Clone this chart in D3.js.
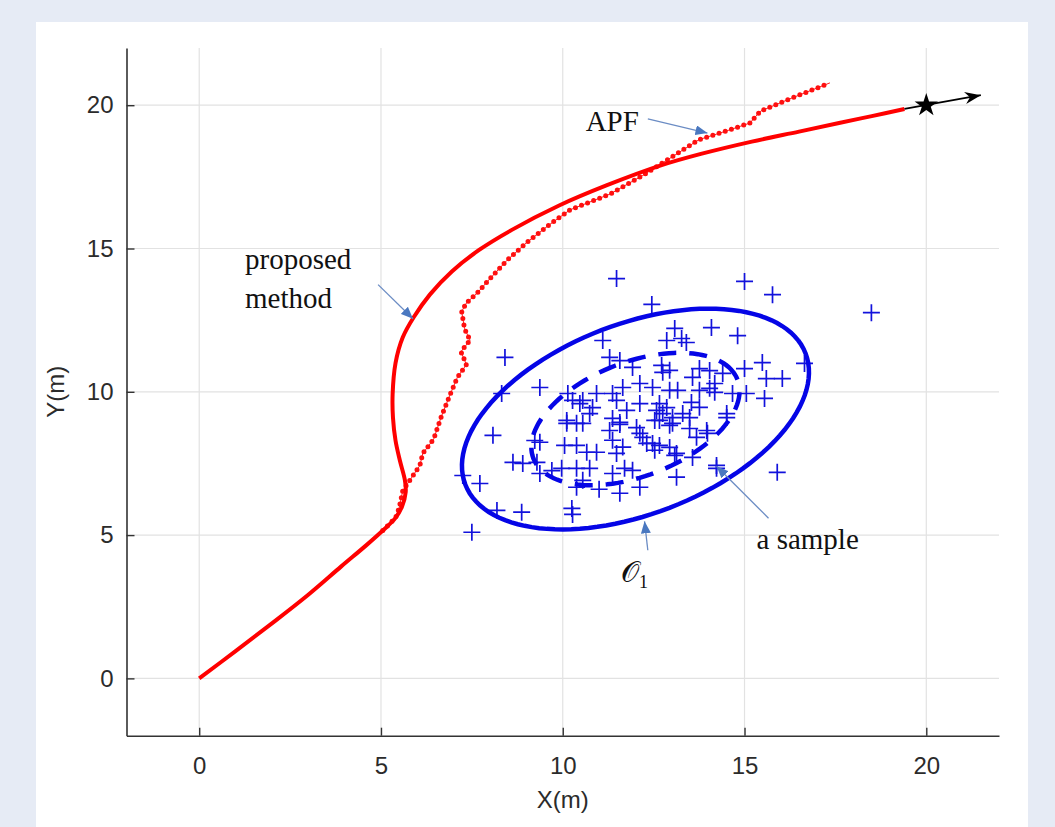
<!DOCTYPE html>
<html>
<head>
<meta charset="utf-8">
<script src="https://cdn.jsdelivr.net/npm/d3@7"></script>
<style>
  body { margin: 0; background: #e6ebf5; }
  svg text { font-family: "Liberation Sans", Arial, sans-serif; }
  .serif { font-family: "Liberation Serif", "Times New Roman", serif !important; }
</style>
</head>
<body>
<div id="chart_area"></div>
<script>
// ---- data ----
var xTicks = [0, 5, 10, 15, 20];
var yTicks = [0, 5, 10, 15, 20];

// proposed method (solid red)
var proposed = [[0,0],[1,0.95],[2,1.92],[3,2.92],[3.9,3.9],[4.6,4.65],[5.05,5.16],[5.4,5.6],
  [5.58,6.0],[5.68,6.5],[5.66,6.9],[5.52,7.6],[5.4,8.3],[5.33,9.1],[5.32,9.9],[5.4,11.0],
  [5.6,11.9],[5.9,12.6],[6.35,13.4],[6.95,14.2],[7.7,14.95],[8.6,15.65],[9.9,16.5],
  [11.2,17.2],[12.7,17.9],[13.8,18.3],[15.2,18.73],[16.5,19.08],[17.6,19.38],[18.5,19.62],[19.4,19.87]];

// APF (red dotted) - the part below (5,5) runs under the solid line
var apf = [[5.05,5.16],[5.4,5.6],[5.5,5.95],
  [5.6,6.55],[6.07,7.43],[6.15,7.85],[6.45,8.35],[6.65,9.1],[6.9,9.9],[7.1,10.5],[7.35,10.95],
  [7.2,11.4],[7.45,11.8],[7.3,12.2],[7.22,12.8],[7.35,13.1],[7.65,13.45],[8.0,13.95],[8.46,14.58],
  [9.0,15.2],[9.6,15.8],[10.2,16.35],[11.3,16.9],[12.2,17.55],[12.95,18.15],[13.75,18.8],
  [14.5,19.1],[15.15,19.38],[15.3,19.6],[15.45,19.8],[16.3,20.25],[17.35,20.78]];

// samples (blue +)
var samples = [[11.48,13.95],[15.0,13.85],[15.77,13.39],[12.45,13.05],[18.49,12.76],[8.41,11.2],
  [16.65,10.99],[16.04,10.46],[15.6,10.46],[15.55,9.77],[15.9,7.19],[8.32,9.94],[8.08,8.48],
  [7.25,7.08],[7.72,6.8],[7.5,5.1],[8.19,5.86],[8.87,5.8],[10.25,5.93],[10.27,5.72],[11.57,6.46],
  [12.12,6.67],[13.08,12.21],[14.09,12.24],[14.81,11.96],[12.86,11.79],[13.27,11.86],[13.4,11.72],
  [15.49,11.02],[15.0,10.81],[12.72,10.92],[12.94,10.75],[13.76,10.81],[14.04,10.74],[13.57,10.5],
  [14.4,10.64],[14.18,10.29],[12.94,10.05],[13.16,10.05],[13.76,10.05],[14.18,9.98],[14.67,9.94],
  [15.05,9.94],[13.54,9.63],[13.76,9.46],[12.75,9.24],[13.49,9.1],[14.51,9.1],[12.53,9.0],
  [12.94,8.83],[13.49,8.72],[13.98,8.55],[12.47,8.2],[12.94,8.06],[13.13,7.85],[13.57,7.71],
  [14.23,7.43],[13.13,7.02],[9.37,10.15],[8.63,7.54],[8.9,7.5],[9.29,7.54],[9.37,7.15],[9.23,8.3],
  [9.37,8.24],[9.97,7.33],[10.38,7.33],[10.74,7.33],[10.55,6.91],[10.05,8.13],[10.38,8.13],
  [10.66,7.89],[10.93,7.89],[10.11,8.9],[10.38,8.9],[10.74,9.24],[10.27,9.7],[10.55,9.7],
  [10.93,9.94],[11.37,9.94],[11.48,9.7],[11.76,9.35],[11.57,8.93],[11.29,8.65],[11.37,8.31],
  [11.65,8.07],[11.48,7.85],[11.37,7.15],[11.7,7.33],[11.92,7.26],[12.12,8.55],[12.31,8.2],
  [12.53,7.96],[12.66,8.13],[12.47,10.15],[12.66,9.59],[13.02,9.1],[13.3,9.24],[14.04,10.12],
  [13.96,8.65],[13.68,8.41],[13.08,7.78],[14.23,7.33],[14.51,9.24],[11.1,11.79],[11.29,11.2],
  [11.57,11.09],[11.92,10.85],[10.14,9.94],[10.47,9.59],[10.82,9.45],[11.65,10.15],[12.12,10.29],
  [12.12,9.59],[12.58,9.35],[12.86,9.45],[12.75,10.68],[10.11,9.0],[10.55,8.9],[11.37,9.07],
  [11.57,8.86],[12.03,8.75],[12.2,8.41],[12.66,9.0],[13.02,8.9],[9.7,7.25],[11.0,6.6],[10.38,6.67]];

// obstacle ellipses: centre, semi-axes, tilt (deg)
var ellipseCenter = [12.0, 9.05];
var ellipseAxes = [5.25, 3.17];
var ellipseTilt = 31.5;
var innerScale = 0.6;

// goal and heading
var goal = [20, 20];
var heading = [[19.4, 19.87], [21.5, 20.35]];

// annotations: text, text pos, arrow from, arrow to
var notes = [
  {lines: ["APF"], at: [10.63, 19.1], from: [12.34, 19.52], to: [13.98, 19.03]},
  {lines: ["proposed", "method"], at: [1.26, 14.3], from: [4.92, 13.74], to: [5.88, 12.55]},
  {lines: ["a sample"], at: [15.33, 4.52], from: [15.66, 5.59], to: [14.23, 7.4]},
  {lines: ["\uD835\uDCAA"], sub: "1", at: [11.6, 3.36], from: [12.34, 4.47], to: [12.25, 5.48]}
];

// ---- frame ----
var W = 1055, H = 827;
var svg = d3.select("#chart_area").append("svg").attr("width", W).attr("height", H);
svg.append("rect").attr("width", W).attr("height", H).attr("fill", "#e6ebf5");
svg.append("rect").attr("x", 36).attr("y", 22).attr("width", 992).attr("height", H - 22).attr("fill", "#fff");

var xScale = d3.scaleLinear().domain([-2, 22]).range([126.5, 999]);
var yScale = d3.scaleLinear().domain([-2, 22]).range([735.7, 47.9]);

var defs = svg.append("defs");
defs.append("marker").attr("id", "bluehead").attr("viewBox", "0 0 12 10")
  .attr("refX", 12).attr("refY", 5).attr("markerWidth", 12).attr("markerHeight", 10)
  .attr("markerUnits", "userSpaceOnUse").attr("orient", "auto")
  .append("path").attr("d", "M0,0L12,5L0,10z").attr("fill", "#4a78c0");
defs.append("marker").attr("id", "blackhead").attr("viewBox", "0 0 16 12")
  .attr("refX", 16).attr("refY", 6).attr("markerWidth", 16).attr("markerHeight", 12)
  .attr("markerUnits", "userSpaceOnUse").attr("orient", "auto")
  .append("path").attr("d", "M0,0L16,6L0,12L5,6z").attr("fill", "#000");

// grid
var grid = svg.append("g");
grid.selectAll(".gx").data(xTicks).enter().append("line")
  .attr("x1", d => xScale(d)).attr("x2", d => xScale(d))
  .attr("y1", yScale(-2)).attr("y2", yScale(22))
  .attr("stroke", "#e2e2e2").attr("stroke-width", 1.2);
grid.selectAll(".gy").data(yTicks).enter().append("line")
  .attr("y1", d => yScale(d)).attr("y2", d => yScale(d))
  .attr("x1", xScale(-2)).attr("x2", xScale(22))
  .attr("stroke", "#e2e2e2").attr("stroke-width", 1.2);

// axes
var xAxis = d3.axisBottom(xScale).tickValues(xTicks).tickSize(-8).tickSizeOuter(0).tickPadding(21);
var yAxis = d3.axisLeft(yScale).tickValues(yTicks).tickSize(-8).tickSizeOuter(0).tickPadding(13);
var gx = svg.append("g").attr("transform", "translate(0," + yScale(-2) + ")").call(xAxis);
var gy = svg.append("g").attr("transform", "translate(" + xScale(-2) + ",0)").call(yAxis);
[gx, gy].forEach(function(g) {
  g.select(".domain").attr("stroke", "#333").attr("stroke-width", 1.6);
  g.selectAll(".tick line").attr("stroke", "#333").attr("stroke-width", 1.4);
  g.selectAll(".tick text").attr("fill", "#2b2b2b").style("font-size", "24px")
    .style("font-family", "'Liberation Sans', Arial, sans-serif");
});

svg.append("text").attr("x", xScale(10)).attr("y", 808).attr("text-anchor", "middle")
  .attr("fill", "#2b2b2b").style("font-size", "24px").text("X(m)");
svg.append("text").attr("transform", "translate(64," + yScale(10) + ") rotate(-90)")
  .attr("text-anchor", "middle").attr("fill", "#2b2b2b").style("font-size", "24px").text("Y(m)");

// ellipses
function ellipsePath(scale) {
  var a = ellipseAxes[0] * scale, b = ellipseAxes[1] * scale;
  var th = ellipseTilt * Math.PI / 180;
  var pts = d3.range(0, 361, 3).map(function(deg) {
    var t = deg * Math.PI / 180;
    return [ellipseCenter[0] + a * Math.cos(th) * Math.cos(t) - b * Math.sin(th) * Math.sin(t),
            ellipseCenter[1] + a * Math.sin(th) * Math.cos(t) + b * Math.cos(th) * Math.sin(t)];
  });
  return d3.line().x(d => xScale(d[0])).y(d => yScale(d[1]))(pts);
}

// samples
svg.append("g").selectAll("path").data(samples).enter().append("path")
  .attr("transform", d => "translate(" + xScale(d[0]) + "," + yScale(d[1]) + ")")
  .attr("d", "M-8.5,0H8.5M0,-8.5V8.5").attr("stroke", "#1212dc").attr("stroke-width", 1.7).attr("fill", "none");

svg.append("path").attr("d", ellipsePath(1)).attr("fill", "none")
  .attr("stroke", "#0505e6").attr("stroke-width", 4.5);
svg.append("path").attr("d", ellipsePath(innerScale)).attr("fill", "none")
  .attr("stroke", "#0505e6").attr("stroke-width", 4.5).attr("stroke-dasharray", "18,13");

// APF dotted
var line = d3.line().x(d => xScale(d[0])).y(d => yScale(d[1]));
svg.append("path").attr("d", line(apf)).attr("fill", "none")
  .attr("stroke", "#ff2020").attr("stroke-width", 1);
svg.append("path").attr("d", line(apf)).attr("fill", "none")
  .attr("stroke", "#ff1010").attr("stroke-width", 5)
  .attr("stroke-linecap", "round").attr("stroke-dasharray", "0,6.5");

// proposed
svg.append("path").attr("d", d3.line().curve(d3.curveCatmullRom).x(d => xScale(d[0])).y(d => yScale(d[1]))(proposed))
  .attr("fill", "none").attr("stroke", "#ff0000").attr("stroke-width", 4);

// heading arrow + goal
svg.append("line").attr("x1", xScale(heading[0][0])).attr("y1", yScale(heading[0][1]))
  .attr("x2", xScale(heading[1][0])).attr("y2", yScale(heading[1][1]))
  .attr("stroke", "#000").attr("stroke-width", 1.8).attr("marker-end", "url(#blackhead)");
svg.append("path").attr("d", d3.symbol(d3.symbolStar, 170)())
  .attr("transform", "translate(" + xScale(goal[0]) + "," + yScale(goal[1]) + ")")
  .attr("fill", "#000");

// annotations
notes.forEach(function(n) {
  svg.append("line").attr("x1", xScale(n.from[0])).attr("y1", yScale(n.from[1]))
    .attr("x2", xScale(n.to[0])).attr("y2", yScale(n.to[1]))
    .attr("stroke", "#6b8cc4").attr("stroke-width", 1.3).attr("marker-end", "url(#bluehead)");
  var t = svg.append("text").attr("class", "serif").attr("x", xScale(n.at[0])).attr("y", yScale(n.at[1]))
    .attr("fill", "#111").style("font-size", "29px");
  n.lines.forEach(function(l, i) {
    t.append("tspan").attr("x", xScale(n.at[0])).attr("dy", i ? 39 : 0).text(l);
  });
  if (n.sub) t.append("tspan").attr("dy", 6).style("font-size", "18px").text(n.sub);
});
</script>
</body>
</html>
